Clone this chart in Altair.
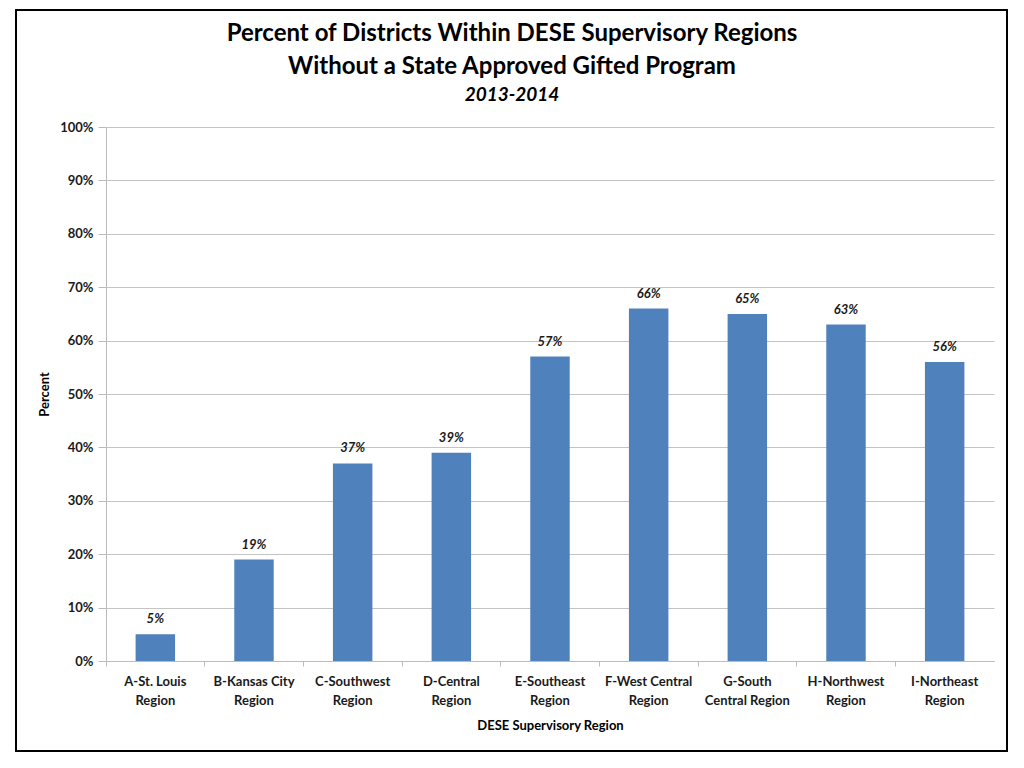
import altair as alt
import pandas as pd

regions = [
    "A-St. Louis\nRegion",
    "B-Kansas City\nRegion",
    "C-Southwest\nRegion",
    "D-Central\nRegion",
    "E-Southeast\nRegion",
    "F-West Central\nRegion",
    "G-South\nCentral Region",
    "H-Northwest\nRegion",
    "I-Northeast\nRegion",
]
percents = [5, 19, 37, 39, 57, 66, 65, 63, 56]

df = pd.DataFrame({"region": regions, "pct": [p / 100 for p in percents],
                   "label": [f"{p}%" for p in percents]})

FONT = "Lato"
W, H = 888, 534

xenc = alt.X(
    "region:N", sort=regions,
    scale=alt.Scale(paddingInner=0, paddingOuter=0),
    axis=alt.Axis(
        title="DESE Supervisory Region", labelAngle=0,
        labelExpr="split(datum.value, '\\n')",
        labelLineHeight=19, labelPadding=9, tickSize=5,
        bandPosition=0, labelOffset=0,
        titlePadding=12,
    ),
)
yenc = alt.Y(
    "pct:Q",
    scale=alt.Scale(domain=[0, 1]),
    axis=alt.Axis(title="Percent", format=".0%", values=[i / 10 for i in range(11)],
                  tickSize=8, labelPadding=5, titlePadding=8),
)

bars = alt.Chart(df).mark_bar(color="#4F81BD", width=alt.RelativeBandSize(0.4)).encode(x=xenc, y=yenc)
texts = alt.Chart(df).mark_text(
    font=FONT, fontSize=13, fontWeight="bold", fontStyle="italic",
    baseline="bottom", dy=-8, color="#1a1a1a",
).encode(x=alt.X("region:N", sort=regions), y="pct:Q", text="label:N")

frame = alt.Chart(df).mark_rect(
    filled=False, stroke="#000000", strokeWidth=1.2, clip=False
).encode(
    x=alt.value(-90), x2=alt.value(901), y=alt.value(-117), y2=alt.value(624)
)

chart = alt.layer(bars, texts, frame).properties(
    width=W, height=H,
    title=alt.TitleParams(
        text=["Percent of Districts Within DESE Supervisory Regions",
              "Without a State Approved Gifted Program"],
        subtitle="2013-2014",
        anchor="middle", frame="group", dx=-38,
        font=FONT, fontSize=24, fontWeight="bold", lineHeight=33, color="#000000",
        subtitleFont=FONT, subtitleFontSize=19, subtitleFontWeight="bold",
        subtitleFontStyle="italic", subtitleColor="#000000", subtitlePadding=7,
        offset=-96,
    ),
    autosize=alt.AutoSizeParams(type="none"),
    padding={"left": 98, "top": 119, "right": 22, "bottom": 95},
).configure_view(stroke=None).configure_axis(
    labelFont=FONT, titleFont=FONT, labelFontSize=13, titleFontSize=13,
    labelFontWeight="bold", titleFontWeight="bold",
    labelColor="#1a1a1a", titleColor="#000000",
    gridColor="#C4C4C4", domainColor="#BBBBBB", tickColor="#BBBBBB",
).configure_axisX(grid=False).configure_axisY(grid=True)

chart.save("out.html", embed_options={"renderer": "svg", "actions": False})
